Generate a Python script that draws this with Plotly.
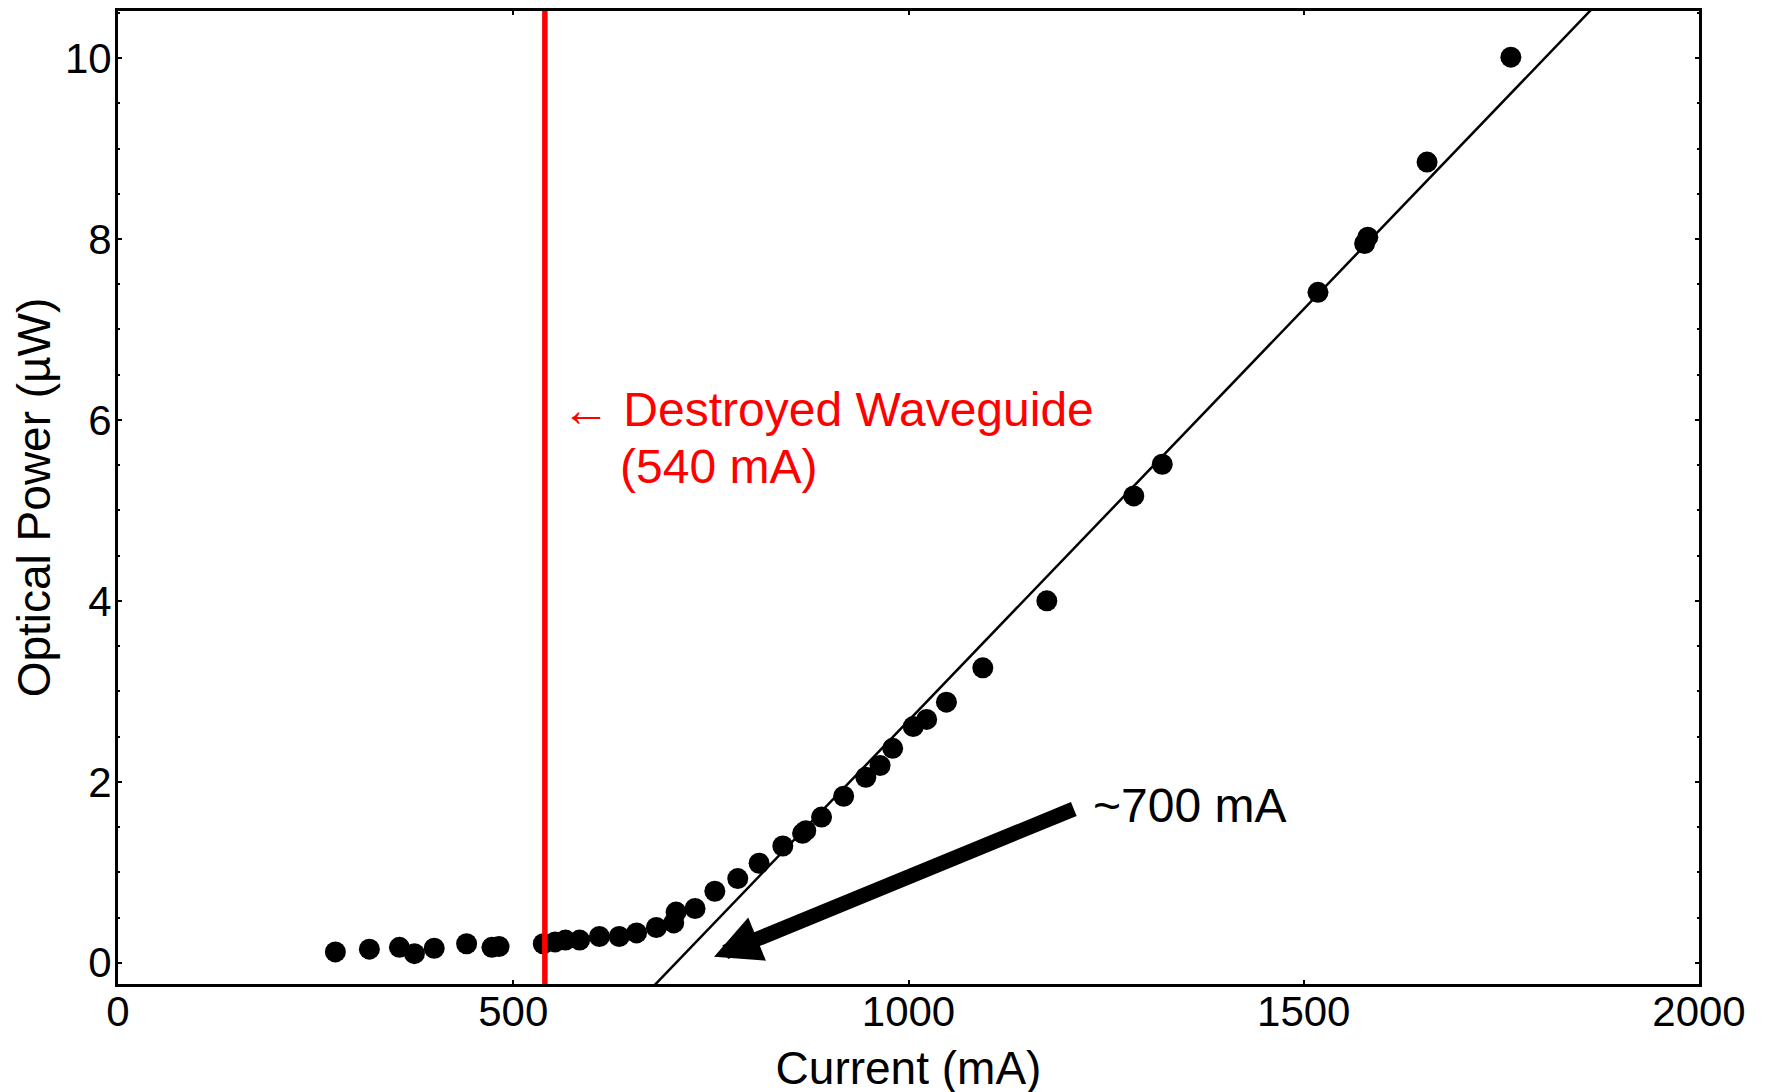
import plotly.graph_objects as go

# ---- data ----
current_mA = [275, 318, 356, 375, 400, 441, 473, 482, 538, 553, 566, 584, 609, 634,
              656, 681, 703, 706, 730, 755, 784, 811, 841, 866, 870, 890, 918, 946,
              964, 980, 1006, 1023, 1048, 1094, 1175, 1285, 1321, 1518, 1577, 1581,
              1656, 1762]
power_uW = [0.12, 0.15, 0.17, 0.10, 0.16, 0.21, 0.17, 0.18, 0.21, 0.23, 0.25, 0.25,
            0.29, 0.29, 0.33, 0.39, 0.44, 0.56, 0.60, 0.79, 0.93, 1.10, 1.29, 1.43,
            1.46, 1.61, 1.84, 2.05, 2.18, 2.37, 2.61, 2.69, 2.88, 3.26, 4.00, 5.16,
            5.51, 7.41, 7.95, 8.02, 8.85, 10.01]

fit_slope = 0.0091        # uW per mA
fit_threshold = 706       # mA (x-intercept)
fit_x = [600, 1950]       # span of the fit line (clipped by the axes)

destroyed_mA = 540

x_ticks = [0, 500, 1000, 1500, 2000]
y_ticks = [0, 2, 4, 6, 8, 10]
x_range = [0, 2000]
y_range = [-0.235, 10.52]

arrow_tip = (754, 0.066)
arrow_tail = (1211, 1.706)

FONT = "Liberation Sans, Arial, sans-serif"

fit_y = [fit_slope * (x - fit_threshold) for x in fit_x]

fig = go.Figure()
fig.add_trace(go.Scatter(x=fit_x, y=fit_y, mode="lines",
                         line=dict(color="black", width=2.5),
                         showlegend=False, hoverinfo="skip"))
fig.add_trace(go.Scatter(x=current_mA, y=power_uW, mode="markers",
                         marker=dict(color="black", size=21, line=dict(width=0)),
                         showlegend=False))

fig.add_shape(type="line", xref="x", yref="paper", x0=destroyed_mA, x1=destroyed_mA,
              y0=0, y1=1, line=dict(color="#ff0000", width=5.5), layer="above")

# thick arrow pointing at the threshold
fig.add_annotation(x=arrow_tip[0], y=arrow_tip[1], ax=arrow_tail[0], ay=arrow_tail[1],
                   xref="x", yref="y", axref="x", ayref="y", text="",
                   showarrow=True, arrowhead=2, arrowsize=0.62, arrowwidth=15,
                   arrowcolor="black", standoff=0)
fig.add_annotation(x=1231, y=1.74, xref="x", yref="y", text="~700 mA",
                   showarrow=False, xanchor="left", yanchor="middle",
                   font=dict(family=FONT, size=48, color="black"))
fig.add_annotation(x=559, y=6.12, xref="x", yref="y", text="\u2190 Destroyed Waveguide",
                   showarrow=False, xanchor="left", yanchor="middle",
                   font=dict(family=FONT, size=48, color="#ff0000"))
fig.add_annotation(x=632, y=5.49, xref="x", yref="y", text="(540 mA)",
                   showarrow=False, xanchor="left", yanchor="middle",
                   font=dict(family=FONT, size=48, color="#ff0000"))

axis_common = dict(showline=True, linecolor="black", linewidth=2.8, mirror="ticks",
                   ticks="inside", ticklen=4, tickwidth=2, tickcolor="black",
                   showgrid=False, zeroline=False,
                   tickfont=dict(family=FONT, size=42, color="black"))

fig.update_xaxes(range=x_range, tickvals=x_ticks, ticktext=[str(v) for v in x_ticks],
                 ticklabelstandoff=-11,
                 title=dict(text="Current (mA)", font=dict(family=FONT, size=46, color="black"),
                            standoff=18),
                 **axis_common)
fig.update_yaxes(range=y_range, tickvals=y_ticks, ticktext=[str(v) for v in y_ticks],
                 ticklabelstandoff=-5,
                 minor=dict(dtick=0.5, ticks="inside", ticklen=2, tickwidth=1.5,
                            tickcolor="black", showgrid=False),
                 title=dict(text="Optical Power (\u00b5W)",
                            font=dict(family=FONT, size=46, color="black"), standoff=8),
                 **axis_common)

fig.update_layout(width=1767, height=1092, autosize=False,
                  margin=dict(l=110, r=76, t=0, b=116),
                  plot_bgcolor="white", paper_bgcolor="white",
                  font=dict(family=FONT, color="black"))

fig.write_html("out.html")
